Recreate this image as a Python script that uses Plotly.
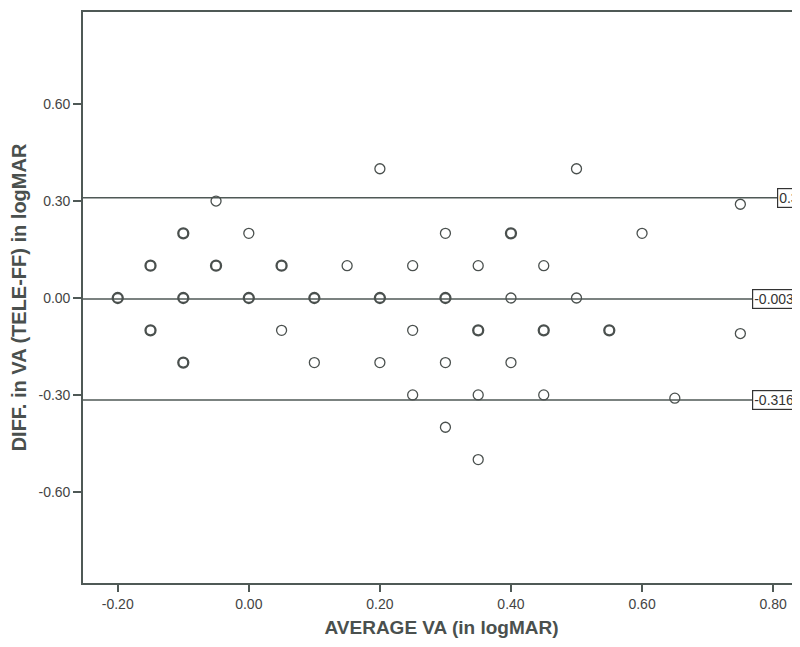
import plotly.graph_objects as go

# Data: average VA (x) and difference (y), with count of overlapping points
avg_va = [0.20, 0.50,
          -0.05, 0.75,
          -0.10, 0.00, 0.30, 0.40, 0.60,
          -0.15, -0.05, 0.05, 0.15, 0.25, 0.35, 0.45,
          -0.20, -0.10, 0.00, 0.10, 0.20, 0.30, 0.40, 0.50,
          -0.15, 0.05, 0.25, 0.35, 0.45, 0.55, 0.75,
          -0.10, 0.10, 0.20, 0.30, 0.40,
          0.25, 0.35, 0.45, 0.65,
          0.30,
          0.35]
diff_va = [0.40, 0.40,
           0.30, 0.29,
           0.20, 0.20, 0.20, 0.20, 0.20,
           0.10, 0.10, 0.10, 0.10, 0.10, 0.10, 0.10,
           0.00, 0.00, 0.00, 0.00, 0.00, 0.00, 0.00, 0.00,
           -0.10, -0.10, -0.10, -0.10, -0.10, -0.10, -0.11,
           -0.20, -0.20, -0.20, -0.20, -0.20,
           -0.30, -0.30, -0.30, -0.31,
           -0.40,
           -0.50]
counts = [1, 1,
          1, 1,
          2, 1, 1, 2, 1,
          2, 2, 2, 1, 1, 1, 1,
          2, 2, 2, 2, 2, 2, 1, 1,
          2, 1, 1, 2, 2, 2, 1,
          2, 1, 1, 1, 1,
          1, 1, 1, 1,
          1,
          1]

mean_diff = -0.003
upper_loa = 0.310
lower_loa = -0.316
ref_labels = ["0.310", "-0.003", "-0.316"]
ref_values = [upper_loa, mean_diff, lower_loa]
label_x = [0.806, 0.768, 0.768]

x_ticks = [-0.20, 0.00, 0.20, 0.40, 0.60, 0.80]
y_ticks = [-0.60, -0.30, 0.00, 0.30, 0.60]

line_col = "#4f5956"
fig = go.Figure()

for val, lx in zip(ref_values, label_x):
    fig.add_trace(go.Scatter(x=[-0.3, lx], y=[val, val], mode="lines",
                             line=dict(color=line_col, width=1.5),
                             hoverinfo="skip", showlegend=False))

fig.add_trace(go.Scatter(
    x=avg_va, y=diff_va, mode="markers", showlegend=False,
    marker=dict(symbol="circle-open", size=10, color="#4a504e",
                line=dict(width=[1.3 if c == 1 else 2.3 for c in counts]))))

for txt, val, lx in zip(ref_labels, ref_values, label_x):
    fig.add_annotation(x=lx, y=val, xref="x", yref="y", text=txt,
                       showarrow=False, xanchor="left", yanchor="middle",
                       font=dict(family="Liberation Sans", size=14, color="#333"),
                       bordercolor="#333", borderwidth=1.2, borderpad=1,
                       bgcolor="white")

axis_font = dict(family="Liberation Sans", size=14, color="#444")
title_font_x = dict(family="Liberation Sans", size=19, color="#4a504e")
title_font_y = dict(family="Liberation Sans", size=20, color="#4a504e")

fig.update_layout(
    width=792, height=639,
    margin=dict(l=75, r=0, t=4, b=64),
    plot_bgcolor="white", paper_bgcolor="white",
    xaxis=dict(range=[-0.253, 0.841], tickvals=x_ticks,
               ticktext=[f"{v:.2f}" for v in x_ticks],
               showgrid=False, zeroline=False, showline=True, mirror=True,
               linecolor=line_col, linewidth=1.6,
               ticks="outside", ticklen=7, tickwidth=1.6, tickcolor=line_col,
               tickfont=axis_font,
               title=dict(text="<b>AVERAGE VA (in logMAR)</b>", font=title_font_x, standoff=10)),
    yaxis=dict(range=[-0.882, 0.885], tickvals=y_ticks,
               ticktext=[f"{v:.2f}" for v in y_ticks],
               showgrid=False, zeroline=False, showline=True, mirror=False,
               linecolor=line_col, linewidth=1.6,
               ticks="outside", ticklen=8, tickwidth=1.6, tickcolor=line_col,
               tickfont=axis_font,
               title=dict(text="<b>DIFF. in VA (TELE-FF) in logMAR</b>", font=title_font_y, standoff=8)),
)

fig.write_html("out.html")
